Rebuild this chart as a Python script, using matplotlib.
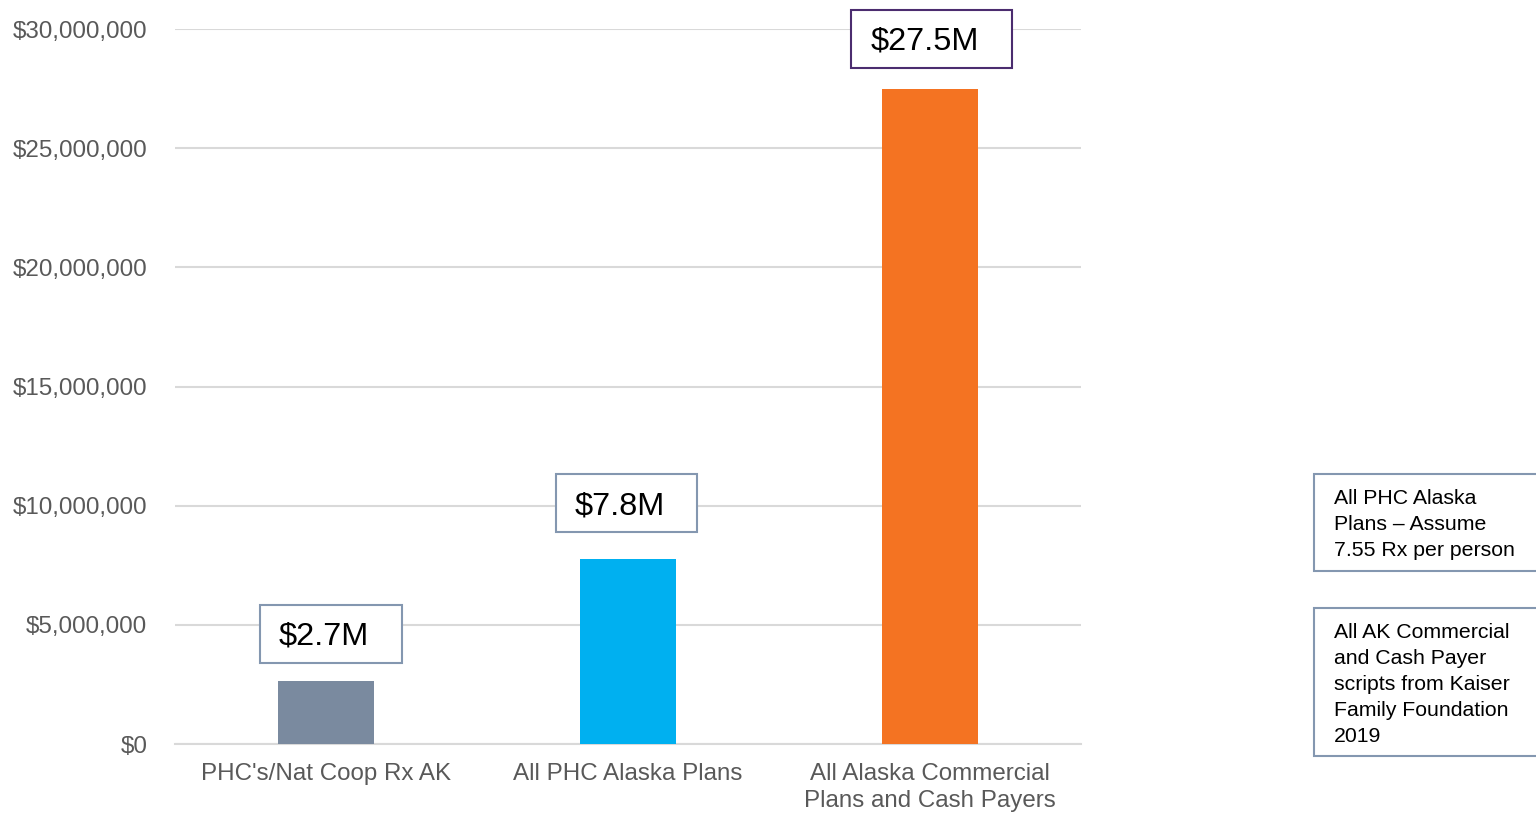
import matplotlib.pyplot as plt
from matplotlib.patches import Rectangle
from matplotlib.ticker import FuncFormatter

plt.rcParams["font.family"] = ["Liberation Sans", "DejaVu Sans"]

# Data
categories = ["PHC's/Nat Coop Rx AK", "All PHC Alaska Plans",
              "All Alaska Commercial\nPlans and Cash Payers"]
values = [2.65e6, 7.76e6, 27.5e6]
value_labels = ["$2.7M", "$7.8M", "$27.5M"]
bar_colors = ["#7A8A9F", "#00B0F0", "#F47322"]
yticks = [0, 5e6, 10e6, 15e6, 20e6, 25e6, 30e6]
notes = ["All PHC Alaska\nPlans \u2013 Assume\n7.55 Rx per person",
         "All AK Commercial\nand Cash Payer\nscripts from Kaiser\nFamily Foundation\n2019"]

# Layout / styling
GRID_COLOR = "#D9D9D9"
TEXT_GRAY = "#595959"
BOX_EDGE = ["#8497B0", "#8497B0", "#4B2C6F"]
box_width = [0.47, 0.47, 0.53]
box_shift = [0.015, -0.005, 0.005]
box_gap = [0.76e6, 1.14e6, 0.88e6]
box_height = 2.43e6

fig = plt.figure(figsize=(15.36, 8.13), dpi=100)
ax = fig.add_axes([175 / 1536, 69 / 813, 906 / 1536, 715 / 813])

x = list(range(len(categories)))
ax.bar(x, values, width=0.315, color=bar_colors, zorder=3)

ax.set_xlim(-0.5, 2.5)
ax.set_ylim(0, 30e6)
ax.set_yticks(yticks)
ax.yaxis.set_major_formatter(FuncFormatter(lambda v, _: f"${v:,.0f}"))
ax.set_xticks(x)
ax.set_xticklabels(categories)
ax.tick_params(axis="y", length=0, pad=20, labelsize=17.4, labelcolor=TEXT_GRAY)
ax.tick_params(axis="x", length=0, pad=14, labelsize=17.4, labelcolor=TEXT_GRAY)
for lab in ax.get_xticklabels():
    lab.set_linespacing(1.28)

ax.grid(axis="y", color=GRID_COLOR, lw=1.5, zorder=0)
for s in ["top", "right", "left"]:
    ax.spines[s].set_visible(False)
ax.spines["bottom"].set_color(GRID_COLOR)
ax.spines["bottom"].set_linewidth(1.5)

# Value label boxes
for i, (v, lab) in enumerate(zip(values, value_labels)):
    bottom = v + box_gap[i]
    left = i - box_width[i] / 2 + box_shift[i]
    rect = Rectangle((left, bottom), box_width[i], box_height, fill=True,
                     facecolor="white", edgecolor=BOX_EDGE[i], lw=1.5,
                     clip_on=False, zorder=4)
    ax.add_patch(rect)
    ax.text(left + 0.063, bottom + box_height / 2 - 0.13e6, lab, ha="left",
            va="center", fontsize=23.4, color="black", zorder=5, clip_on=False)

# Side note boxes
note_boxes = [(1314, 474, 571), (1314, 608, 756)]
for (xl, yt, yb), txt in zip(note_boxes, notes):
    rect = Rectangle((xl / 1536, 1 - yb / 813), (1540 - xl) / 1536, (yb - yt) / 813,
                     transform=fig.transFigure, facecolor="white",
                     edgecolor="#8497B0", lw=1.5)
    fig.patches.append(rect)
    fig.text((xl + 20) / 1536, 1 - (yt + 15) / 813, txt, ha="left", va="top",
             fontsize=15.3, linespacing=1.46, color="black")

plt.savefig("out.png", dpi=100)
